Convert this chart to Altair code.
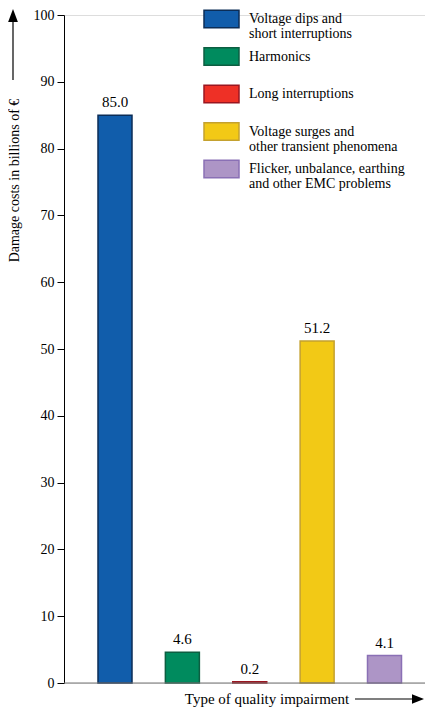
import altair as alt
import pandas as pd

categories = [
    "Voltage dips and\nshort interruptions",
    "Harmonics",
    "Long interruptions",
    "Voltage surges and\nother transient phenomena",
    "Flicker, unbalance, earthing\nand other EMC problems",
]
values = [85.0, 4.6, 0.2, 51.2, 4.1]
fills = ["#115DAB", "#008B5E", "#EE3026", "#F2C916", "#AD95C6"]
strokes = ["#0B2D57", "#0C5E41", "#9A1620", "#C4A12F", "#8A70B5"]
y_ticks = [0, 10, 20, 30, 40, 50, 60, 70, 80, 90, 100]
y_title = "Damage costs in billions of €"
x_title = "Type of quality impairment"

FONT = "Liberation Serif, DejaVu Serif, Times New Roman, serif"
W, H = 361, 668

df = pd.DataFrame({"cat": categories, "value": values})
one = alt.Data(values=[{"a": 1}])

x_enc = alt.X("cat:N", sort=categories,
              scale=alt.Scale(type="point", range=[51, 320.5], padding=0),
              axis=None)
y_enc = alt.Y("value:Q", scale=alt.Scale(domain=[0, 100], nice=False),
              axis=alt.Axis(values=y_ticks, tickSize=7, labelPadding=3,
                            labelFont=FONT, labelFontSize=14, labelColor="#000",
                            domainColor="#000", tickColor="#000", grid=False,
                            title=y_title, titleFont=FONT, titleFontSize=14,
                            titleFontWeight="normal", titleColor="#000",
                            titleAngle=-90, titleX=-50, titleY=165,
                            titleAlign="center", titleBaseline="middle"))

fill_scale = alt.Scale(domain=categories, range=fills)
stroke_scale = alt.Scale(domain=categories, range=strokes)

bars = alt.Chart(df).mark_bar(size=34, strokeWidth=1.5, opacity=1).encode(
    x=x_enc,
    y=y_enc,
    fill=alt.Fill("cat:N", scale=fill_scale, legend=None),
    stroke=alt.Stroke("cat:N", scale=stroke_scale, legend=None),
)

labels = alt.Chart(df).mark_text(dy=-5, baseline="bottom", font=FONT,
                                 fontSize=15, color="#000").encode(
    x=x_enc, y=alt.Y("value:Q"), text=alt.Text("value:Q", format=".1f"))

xaxis = alt.Chart(one).mark_rule(color="#777", strokeWidth=1.2).encode(
    x=alt.value(0), x2=alt.value(W), y=alt.datum(0))

xtitle = alt.Chart(one).mark_text(font=FONT, fontSize=15, color="#000",
                                  baseline="middle").encode(
    x=alt.value(203), y=alt.value(684), text=alt.value(x_title))

xarrow_line = alt.Chart(one).mark_rule(color="#000", strokeWidth=1.2).encode(
    x=alt.value(291), x2=alt.value(350), y=alt.value(684))
xarrow_head = alt.Chart(one).mark_point(shape="M1,0L-1,-0.8L-1,0.8Z", size=144,
                                        filled=True, color="#000", opacity=1).encode(
    x=alt.value(354), y=alt.value(684))

yarrow_line = alt.Chart(one).mark_rule(color="#000", strokeWidth=1.2).encode(
    x=alt.value(-51), y=alt.value(65), y2=alt.value(6))
yarrow_head = alt.Chart(one).mark_point(shape="M0,-1L0.75,1L-0.75,1Z", size=169,
                                        filled=True, color="#000", opacity=1).encode(
    x=alt.value(-51), y=alt.value(0.5))

# manual legend
leg_y = alt.Y("cat:N", sort=categories,
              scale=alt.Scale(type="point", range=[4, 154], padding=0), axis=None)
leg_sym = alt.Chart(df).mark_point(shape="M-1,-0.5H1V0.5H-1Z", size=1225,
                                   filled=True, strokeWidth=1.5, opacity=1).encode(
    x=alt.value(157.5), y=leg_y,
    fill=alt.Fill("cat:N", scale=fill_scale, legend=None),
    stroke=alt.Stroke("cat:N", scale=stroke_scale, legend=None),
)
leg_txt = alt.Chart(df).mark_text(align="left", baseline="middle", font=FONT,
                                  fontSize=14, lineHeight=15, lineBreak="\n",
                                  color="#000").encode(
    x=alt.value(185), y=leg_y, text="cat:N")

main = alt.layer(bars, labels, xaxis, xtitle, xarrow_line, xarrow_head,
                 yarrow_line, yarrow_head)
leg = alt.layer(leg_sym, leg_txt)

chart = alt.layer(main, leg).resolve_scale(y="independent").properties(
    width=W, height=H,
    autosize=alt.AutoSizeParams(type="none"),
    padding={"left": 56, "top": 7, "right": 0, "bottom": 25},
).configure_view(stroke=None).configure(background="white")

chart.save("out.html", embed_options={"renderer": "svg", "actions": False})
